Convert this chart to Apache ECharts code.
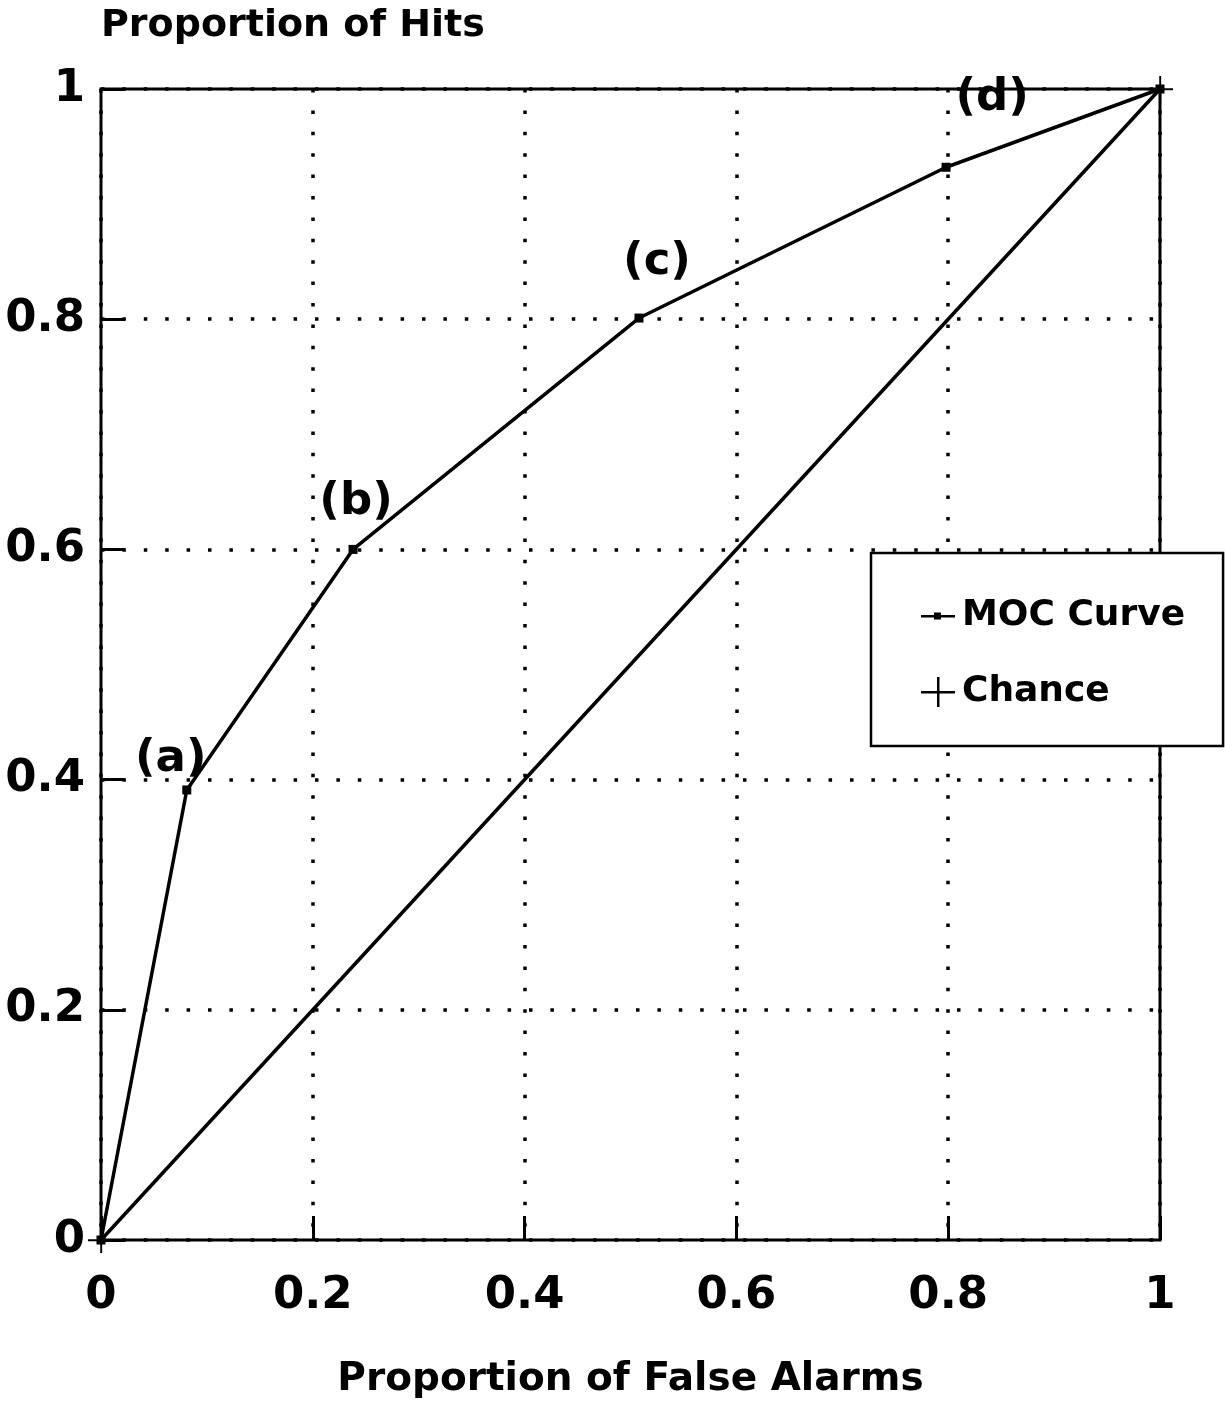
<!DOCTYPE html>
<html>
<head>
<meta charset="utf-8">
<script src="https://cdn.jsdelivr.net/npm/echarts@6/dist/echarts.min.js"></script>
<style>
html,body{margin:0;padding:0;background:#fff;}
#chart{width:1225px;height:1402px;}
</style>
</head>
<body>
<div id="chart"></div>
<script>
// Data
const mocX = [0, 0.081, 0.238, 0.508, 0.798, 1];
const mocY = [0, 0.391, 0.600, 0.801, 0.932, 1];
const mocLabels = ['', '(a)', '(b)', '(c)', '(d)', ''];
const chanceX = [0, 1];
const chanceY = [0, 1];
const tickValues = [0, 0.2, 0.4, 0.6, 0.8, 1];
const seriesNames = ['MOC Curve', 'Chance'];
const xTitle = 'Proportion of False Alarms';
const yTitle = 'Proportion of Hits';

// label placement offsets (style only)
const labelOffsets = [[0,0],[-16,-31],[3,-47],[18,-56],[46,-69],[0,0]];

const FONT = 'DejaVu Sans';
const plusPath = 'path://M0,14H34V16.5H0Z M16,0H18.5V30H16Z';
const mocIcon = 'path://M0,14H34V16.5H0Z M13,11.5H20V18.5H13Z';

const mocData = mocX.map((x, i) => {
  const d = { value: [x, mocY[i]] };
  if (mocLabels[i]) {
    d.label = {
      show: true,
      formatter: mocLabels[i],
      position: 'inside',
      offset: labelOffsets[i],
      fontSize: 45,
      fontWeight: 'bold',
      fontFamily: FONT,
      color: '#000',
      align: 'center',
      verticalAlign: 'middle'
    };
  }
  return d;
});
const chanceData = chanceX.map((x, i) => [x, chanceY[i]]);

const chart = echarts.init(document.getElementById('chart'), null, {renderer: 'canvas'});
const axisCommon = {
  type: 'value',
  min: 0, max: 1, interval: 0.2,
  axisLine: { show: false },
  axisTick: { show: true, inside: true, length: 24, lineStyle: { color: '#000', width: 3 } },
  splitLine: { show: true, lineStyle: { color: '#000', width: 3.5, type: [3.5, 17.9], cap: 'butt' } },
  axisLabel: {
    fontSize: 45, fontWeight: 'bold', fontFamily: FONT, color: '#000',
    formatter: v => (tickValues.includes(+v.toFixed(2)) ? String(+v.toFixed(2)) : '')
  }
};
chart.setOption({
  animation: false,
  backgroundColor: '#fff',
  grid: { left: 101, top: 89, width: 1059, height: 1151, containLabel: false, outerBoundsMode: 'none',
          show: true, borderColor: '#000', borderWidth: 3, backgroundColor: 'transparent' },
  xAxis: Object.assign({}, axisCommon, {
    name: xTitle, nameLocation: 'middle', nameGap: 120,
    nameTextStyle: { fontSize: 39, fontWeight: 'bold', fontFamily: FONT, color: '#000' },
    axisLabel: Object.assign({}, axisCommon.axisLabel, { margin: 34 })
  }),
  yAxis: Object.assign({}, axisCommon, {
    name: yTitle, nameLocation: 'end', nameGap: 63,
    nameTextStyle: { fontSize: 38, fontWeight: 'bold', fontFamily: FONT, color: '#000', align: 'left', verticalAlign: 'middle' },
    axisLabel: Object.assign({}, axisCommon.axisLabel, { margin: 16 })
  }),
  legend: {
    orient: 'vertical',
    left: 871, top: 553,
    padding: [45, 38, 36, 50],
    itemGap: 40,
    itemWidth: 34, itemHeight: 30,
    backgroundColor: '#fff',
    borderColor: '#000', borderWidth: 2.5, borderRadius: 0,
    textStyle: { fontSize: 36, fontWeight: 'bold', fontFamily: FONT, color: '#000', padding: [0,0,0,2] },
    data: [
      { name: seriesNames[0], icon: mocIcon, itemStyle: { color: '#000' } },
      { name: seriesNames[1], icon: plusPath, itemStyle: { color: '#000' } }
    ]
  },
  series: [
    {
      name: seriesNames[0], type: 'line', data: mocData,
      symbol: 'rect', symbolSize: 9,
      lineStyle: { color: '#000', width: 3.5 },
      itemStyle: { color: '#000' },
      z: 5
    },
    {
      name: seriesNames[1], type: 'line', data: chanceData,
      symbol: plusPath, symbolSize: 26,
      lineStyle: { color: '#000', width: 3.5 },
      itemStyle: { color: '#000' },
      z: 4
    }
  ]
});
</script>
</body>
</html>
